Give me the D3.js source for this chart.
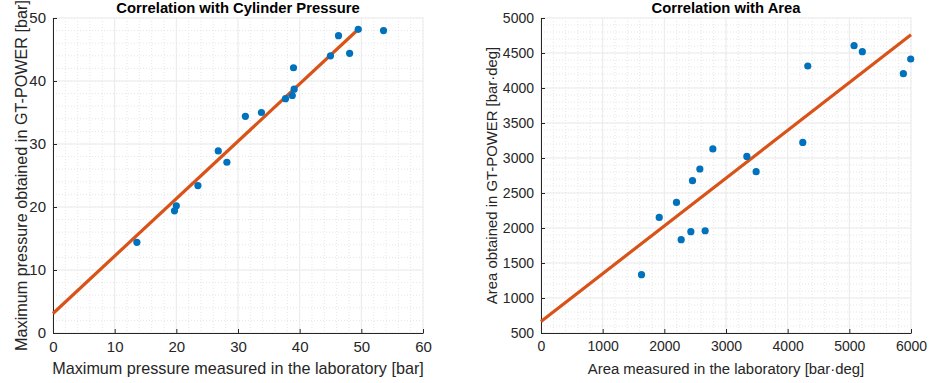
<!DOCTYPE html>
<html>
<head>
<meta charset="utf-8">
<script src="https://cdn.jsdelivr.net/npm/d3@7"></script>
<style>
  body { margin: 0; background: #fff; }
  svg { display: block; font-family: Arial, "Liberation Sans", sans-serif; }
</style>
</head>
<body>
<svg id="chart" width="929" height="383"></svg>
<script>
// ── data ────────────────────────────────────────────────
const pressureLab = [49.5, 53.6, 46.3, 48.1, 45.0, 39.0, 39.1, 38.8, 37.7, 33.8, 31.2, 26.8, 28.2, 23.5, 20.0, 19.7, 13.6];
const pressureSim = [48.2, 48.0, 47.2, 44.4, 44.0, 42.1, 38.7, 37.7, 37.2, 35.0, 34.4, 28.9, 27.1, 23.4, 20.2, 19.4, 14.4];
const pressureFitX = [0, 49.6];
const pressureFitY = [3.1, 48.3];
const pressureXTicks = [0, 10, 20, 30, 40, 50, 60];
const pressureYTicks = [0, 10, 20, 30, 40, 50];

const areaLab = [5077, 5211, 5995, 5876, 4326, 4245, 2787, 3338, 3489, 2576, 2457, 2197, 1917, 2430, 2662, 2273, 1630];
const areaSim = [4604, 4519, 4414, 4204, 4314, 3223, 3129, 3023, 2804, 2843, 2676, 2366, 2151, 1947, 1961, 1833, 1333];
const areaFitX = [0, 6000];
const areaFitY = [665, 4760];
const areaXTicks = [0, 1000, 2000, 3000, 4000, 5000, 6000];
const areaYTicks = [500, 1000, 1500, 2000, 2500, 3000, 3500, 4000, 4500, 5000];

const svg = d3.select('#chart');

function panel(o) {
	const x = d3.scaleLinear().domain(o.xDomain).range([o.left, o.right]);
	const y = d3.scaleLinear().domain(o.yDomain).range([o.bottom, o.top]);
	const g = svg.append('g');

	// minor grid (dotted)
	const xMinor = d3.range(o.xDomain[0], o.xDomain[1] + 1e-9, o.xMinor);
	const yMinor = d3.range(o.yDomain[0], o.yDomain[1] + 1e-9, o.yMinor);
	g.selectAll('line.xm').data(xMinor).join('line')
		.attr('x1', d => x(d)).attr('x2', d => x(d))
		.attr('y1', o.top).attr('y2', o.bottom)
		.attr('stroke', '#e6e6e6').attr('stroke-width', 1).attr('stroke-dasharray', '1,2');
	g.selectAll('line.ym').data(yMinor).join('line')
		.attr('y1', d => y(d)).attr('y2', d => y(d))
		.attr('x1', o.left).attr('x2', o.right)
		.attr('stroke', '#e6e6e6').attr('stroke-width', 1).attr('stroke-dasharray', '1,2');

	// major grid
	g.selectAll('line.xg').data(o.xTicks).join('line')
		.attr('x1', d => x(d)).attr('x2', d => x(d))
		.attr('y1', o.top).attr('y2', o.bottom)
		.attr('stroke', '#ebebeb').attr('stroke-width', 1);
	g.selectAll('line.yg').data(o.yTicks).join('line')
		.attr('y1', d => y(d)).attr('y2', d => y(d))
		.attr('x1', o.left).attr('x2', o.right)
		.attr('stroke', '#ebebeb').attr('stroke-width', 1);

	// axes (MATLAB style, ticks inside)
	const fmt = d3.format('d');
	const xAxis = g.append('g').attr('transform', `translate(0,${o.bottom})`)
		.call(d3.axisBottom(x).tickValues(o.xTicks).tickFormat(fmt).tickSize(-4).tickPadding(8).tickSizeOuter(0));
	const yAxis = g.append('g').attr('transform', `translate(${o.left},0)`)
		.call(d3.axisLeft(y).tickValues(o.yTicks).tickFormat(fmt).tickSize(-4).tickPadding(7).tickSizeOuter(0));
	[xAxis, yAxis].forEach(a => {
		a.select('.domain').attr('stroke', '#262626');
		a.selectAll('.tick line').attr('stroke', '#262626');
		a.selectAll('.tick text').attr('fill', '#262626')
			.attr('font-size', o.tickFont).attr('font-family', 'Arial, "Liberation Sans", sans-serif');
	});

	// fit line
	g.append('path')
		.datum(d3.zip(o.fitX, o.fitY))
		.attr('d', d3.line().x(d => x(d[0])).y(d => y(d[1])))
		.attr('fill', 'none').attr('stroke', '#D95319').attr('stroke-width', 3.2);

	// points
	g.selectAll('circle').data(d3.zip(o.xs, o.ys)).join('circle')
		.attr('cx', d => x(d[0])).attr('cy', d => y(d[1]))
		.attr('r', 3.6).attr('fill', '#0072BD');

	// texts
	g.append('text').text(o.title)
		.attr('x', (o.left + o.right) / 2).attr('y', 13)
		.attr('text-anchor', 'middle').attr('font-weight', 'bold')
		.attr('font-size', 14.8).attr('fill', '#000');
	g.append('text').text(o.xLabel)
		.attr('x', (o.left + o.right) / 2).attr('y', 374)
		.attr('text-anchor', 'middle').attr('font-size', o.labelFont).attr('fill', '#262626');
	g.append('text').text(o.yLabel)
		.attr('transform', `translate(${o.yLabelX},${(o.top + o.bottom) / 2}) rotate(-90)`)
		.attr('text-anchor', 'middle').attr('font-size', o.labelFont).attr('fill', '#262626');
}

panel({
	left: 53, right: 423, top: 18, bottom: 333,
	xDomain: [0, 60], yDomain: [0, 50], xTicks: pressureXTicks, yTicks: pressureYTicks,
	xMinor: 2, yMinor: 2,
	xs: pressureLab, ys: pressureSim, fitX: pressureFitX, fitY: pressureFitY,
	title: 'Correlation with Cylinder Pressure',
	xLabel: 'Maximum pressure measured in the laboratory [bar]',
	yLabel: 'Maximum pressure obtained in GT-POWER [bar]',
	yLabelX: 27, tickFont: 15, labelFont: 16.2,
});

panel({
	left: 541, right: 911, top: 18, bottom: 333,
	xDomain: [0, 6000], yDomain: [500, 5000], xTicks: areaXTicks, yTicks: areaYTicks,
	xMinor: 200, yMinor: 100,
	xs: areaLab, ys: areaSim, fitX: areaFitX, fitY: areaFitY,
	title: 'Correlation with Area',
	xLabel: 'Area measured in the laboratory [bar·deg]',
	yLabel: 'Area obtained in GT-POWER [bar·deg]',
	yLabelX: 497, tickFont: 14, labelFont: 14.9,
});
</script>
</body>
</html>
